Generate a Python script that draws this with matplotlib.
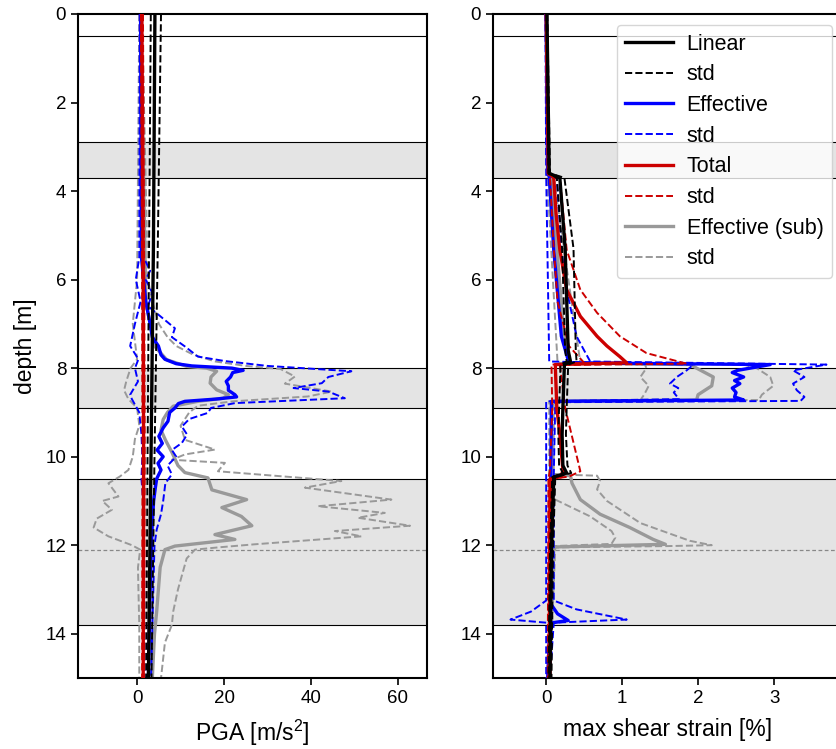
import matplotlib
matplotlib.use("Agg")
import matplotlib.pyplot as plt
from matplotlib.lines import Line2D

plt.rcParams['font.family'] = ['Liberation Sans', 'DejaVu Sans']
plt.rcParams['mathtext.fontset'] = 'custom'
plt.rcParams['mathtext.rm'] = 'Liberation Sans'
plt.rcParams['mathtext.default'] = 'regular'

# ---------------- layer geometry (depth, m) ----------------
layer_lines = [0.5, 2.9, 3.7, 8.0, 8.9, 10.5, 13.8]
bands = [(2.9, 3.7), (8.0, 8.9), (10.5, 13.8)]
water_table = 12.1
yticks = [0, 2, 4, 6, 8, 10, 12, 14]

# ---------------- PGA panel [m/s2] ----------------
pga_lin_d = [0, 5.3, 10, 15]
pga_lin = [4.1, 3.75, 3.2, 2.6]
pga_lin_hi = [5.5, 4.75, 4.0, 3.3]
pga_lin_lo = [3.15, 2.75, 2.4, 2.1]

pga_tot_d = [0, 6, 10, 15]
pga_tot = [1.1, 1.4, 1.5, 1.4]
pga_tot_hi = [1.35, 1.65, 1.75, 1.65]
pga_tot_lo = [0.85, 1.15, 1.25, 1.15]

pga_eff_d = [0, 5.5, 6.5, 7.0, 7.3, 7.5, 7.7, 7.8, 7.9, 7.95, 8.0, 8.05, 8.1, 8.2,
             8.3, 8.4, 8.5, 8.6, 8.65, 8.7, 8.75, 8.8, 8.9, 9.0, 9.2, 9.35, 9.54,
             9.7, 9.85, 10.0, 10.15, 10.3, 10.5, 10.7, 11.0, 11.5, 12.0, 13.0, 14.0, 15.0]
pga_eff = [0.8, 1.0, 2.0, 3.0, 3.5, 4.9, 5.5, 6.4, 9.0, 12.6, 21.8, 24.4, 22.0, 21.5,
           20.5, 21.0, 21.0, 22.5, 22.9, 18.0, 11.0, 9.5, 8.7, 7.5, 7.1, 6.0, 5.0,
           5.8, 4.6, 6.0, 4.8, 5.5, 4.5, 4.2, 3.8, 3.5, 3.3, 3.0, 2.8, 2.6]
pga_eff_hi_d = [0, 5.5, 5.8, 6.0, 6.3, 6.6, 6.76, 7.1, 7.3, 7.51, 7.74, 7.84, 7.95, 8.07,
                8.2, 8.34, 8.45, 8.53, 8.68, 8.79, 8.9, 9.01, 9.15, 9.32, 9.5, 9.69, 9.85,
                10.0, 10.2, 10.4, 10.6, 11.0, 11.3, 11.65, 12.0, 15.0]
pga_eff_hi = [1.1, 1.5, 3.0, 2.0, 3.5, 2.5, 4.5, 8.7, 8.0, 11.0, 14.0, 20.2, 30.0, 49.3,
              44.0, 42.5, 36.0, 44.0, 47.8, 22.5, 17.0, 16.3, 12.0, 10.3, 11.5, 10.3, 8.0,
              9.0, 7.0, 8.0, 6.5, 6.0, 5.5, 4.5, 4.0, 3.2]
pga_eff_lo_d = [0, 5.5, 6.0, 6.5, 7.0, 7.5, 7.8, 8.0, 8.3, 8.6, 8.7, 9.0, 9.5, 10.0,
                10.5, 11.0, 12.0, 15.0]
pga_eff_lo = [0.6, 0.5, -0.3, 0.8, -0.5, -1.6, 0.3, -0.5, 0.2, -1.6, -1.2, 0.5, 1.0, 1.2,
              1.0, 1.4, 1.6, 1.7]

pga_sub_d = [0, 6.5, 7.0, 7.5, 7.81, 7.96, 8.0, 8.07, 8.2, 8.34, 8.49, 8.6, 8.68, 8.75,
             8.86, 9.0, 9.16, 9.4, 9.62, 9.9, 10.2, 10.36, 10.48, 10.75, 10.97, 11.15,
             11.35, 11.56, 11.76, 11.87, 12.02, 12.1, 12.5, 13.5, 14.0, 15.0]
pga_sub = [0.8, 2.0, 3.0, 4.0, 6.8, 11.4, 16.0, 18.3, 17.0, 16.8, 18.3, 21.0, 19.8, 14.0,
           8.3, 7.0, 6.0, 5.5, 6.5, 8.0, 9.4, 11.0, 16.3, 17.2, 25.2, 19.5,
           24.0, 26.4, 17.9, 22.5, 8.7, 6.4, 5.3, 4.5, 4.0, 3.5]
pga_sub_hi_d = [0, 6.0, 6.5, 7.0, 7.3, 7.5, 7.7, 7.85, 7.95, 8.02, 8.19, 8.35, 8.53, 8.64,
                8.75, 8.85, 9.0, 9.3, 9.62, 9.84, 9.95, 10.07, 10.14, 10.33, 10.55, 10.7,
                10.97, 11.12, 11.27, 11.38, 11.56, 11.68, 11.8, 11.98, 12.05, 12.1, 12.3,
                13.0, 13.5, 13.8, 14.2, 15.0]
pga_sub_hi = [1.1, 2.5, 3.5, 5.0, 7.0, 9.0, 13.0, 18.0, 25.0, 33.0, 36.3, 34.0, 44.8, 39.3,
              22.0, 14.0, 12.0, 10.0, 11.0, 17.9, 11.0, 8.0, 20.2, 18.6, 47.0, 38.6,
              58.5, 41.6, 57.0, 50.8, 62.8, 45.5, 51.6, 27.0, 18.6, 13.3, 11.4,
              9.4, 8.3, 8.0, 6.4, 5.5]
pga_sub_lo_d = [0, 6.0, 7.0, 7.8, 8.0, 8.3, 8.5, 8.7, 8.9, 9.3, 9.6, 10.0, 10.3, 10.45,
                10.6, 10.9, 11.0, 11.2, 11.4, 11.6, 11.8, 12.0, 12.1, 12.5, 13.0, 13.8, 15.0]
pga_sub_lo = [0.5, 0.0, -1.0, 0.0, -1.5, -2.5, -3.0, -2.0, 0.0, 0.5, -0.5, -1.0, -2.0, -4.0,
              -6.6, -4.3, -8.0, -5.8, -9.3, -10.0, -6.6, -1.2, 0.7, 0.2, 0.3, 0.5, 0.5]

# ---------------- max shear strain panel [%] ----------------
gam_lin_d = [0, 3.6, 3.7, 5.3, 7.6, 7.85, 7.92, 8.9, 9.5, 10.2, 10.37, 10.46, 12.1, 15]
gam_lin = [0.01, 0.04, 0.18, 0.25, 0.29, 0.32, 0.24, 0.22, 0.21, 0.22, 0.27, 0.1, 0.07, 0.05]
gam_lin_hi = [0.015, 0.05, 0.24, 0.36, 0.39, 0.4, 0.29, 0.27, 0.26, 0.28, 0.33, 0.12, 0.09, 0.07]
gam_lin_lo = [0.005, 0.03, 0.14, 0.21, 0.25, 0.27, 0.19, 0.17, 0.16, 0.17, 0.22, 0.08, 0.05, 0.03]

gam_tot_d = [0, 3.6, 3.7, 4.5, 5.33, 6.23, 6.83, 7.28, 7.5, 7.74, 7.88, 7.92, 8.9, 9.5,
             10.3, 10.45, 10.5, 15]
gam_tot = [0.0, 0.03, 0.1, 0.13, 0.18, 0.27, 0.45, 0.67, 0.8, 0.97, 1.06, 0.12, 0.14, 0.18,
           0.22, 0.2, 0.05, 0.04]
gam_tot_hi_d = [0, 3.6, 3.7, 5.33, 6.23, 6.75, 7.28, 7.66, 7.9, 7.93, 8.9, 10.33, 10.45, 10.5, 15]
gam_tot_hi = [0.01, 0.04, 0.18, 0.27, 0.45, 0.67, 0.97, 1.32, 1.85, 0.18, 0.25, 0.45, 0.3, 0.07, 0.06]
gam_tot_lo_d = [0, 3.6, 3.7, 5.3, 6.5, 7.5, 7.88, 7.92, 8.9, 10.3, 10.5, 15]
gam_tot_lo = [0.0, 0.02, 0.05, 0.1, 0.15, 0.3, 0.5, 0.07, 0.08, 0.05, 0.03, 0.02]

gam_eff_d = [0, 3.6, 3.67, 5.33, 7.28, 7.88, 7.92, 8.05, 8.1, 8.2, 8.28, 8.35, 8.45, 8.55,
             8.65, 8.72, 8.75, 10.4, 13.3, 13.55, 13.7, 13.76, 15]
gam_eff = [0.0, 0.02, 0.04, 0.1, 0.2, 0.3, 2.95, 2.52, 2.45, 2.6, 2.48, 2.55, 2.45, 2.5,
           2.48, 2.6, 0.07, 0.06, 0.05, 0.15, 0.29, 0.05, 0.02]
gam_eff_hi_d = [0, 3.6, 3.7, 5.3, 6.23, 7.28, 7.6, 7.85, 7.92, 8.05, 8.2, 8.35, 8.5, 8.65,
                8.74, 8.77, 10.4, 13.25, 13.45, 13.68, 13.75, 15]
gam_eff_hi = [0.01, 0.03, 0.14, 0.2, 0.27, 0.4, 0.5, 0.58, 3.69, 3.25, 3.4, 3.25, 3.3, 3.4,
              3.35, 0.12, 0.1, 0.1, 0.4, 1.06, 0.1, 0.05]
gam_eff_lo_d = [0, 3.6, 7.85, 7.92, 8.05, 8.2, 8.35, 8.45, 8.55, 8.7, 8.75, 10.4, 13.25,
                13.5, 13.68, 13.75, 15]
gam_eff_lo = [-0.01, 0.0, 0.04, 1.94, 1.85, 1.72, 1.63, 1.74, 1.68, 1.75, 0.0, 0.0, 0.0,
              -0.2, -0.47, 0.0, 0.0]

gam_sub_d = [0, 3.6, 3.7, 7.0, 7.88, 7.92, 8.0, 8.2, 8.4, 8.6, 8.72, 8.75, 10.4, 10.43,
             10.6, 10.97, 11.3, 11.6, 11.87, 11.98, 12.04, 15]
gam_sub = [0.0, 0.02, 0.07, 0.22, 0.3, 1.9, 1.98, 2.2, 2.18, 2.0, 1.98, 0.07, 0.07, 0.32,
           0.34, 0.45, 0.71, 1.1, 1.41, 1.57, 0.1, 0.04]
gam_sub_hi_d = [0, 3.6, 3.7, 7.88, 7.92, 8.0, 8.2, 8.4, 8.6, 8.72, 8.75, 10.4, 10.43, 10.55,
                10.74, 11.0, 11.5, 11.9, 12.0, 12.02, 12.05, 15]
gam_sub_hi = [0.01, 0.03, 0.1, 0.45, 2.6, 2.77, 2.95, 2.99, 2.84, 2.8, 0.1, 0.1, 0.67, 0.71,
              0.67, 0.8, 1.24, 1.89, 2.18, 1.6, 0.12, 0.05]
gam_sub_lo_d = [0, 3.6, 7.88, 7.92, 8.0, 8.2, 8.4, 8.6, 8.72, 8.75, 10.4, 10.97, 11.35,
                11.68, 11.83, 11.97, 12.02, 15]
gam_sub_lo = [0.0, 0.01, 0.15, 1.3, 1.32, 1.24, 1.35, 1.29, 1.24, 0.04, 0.04, 0.12, 0.58,
              0.86, 0.91, 0.86, 0.1, 0.03]

legend_names = ['Linear', 'std', 'Effective', 'std', 'Total', 'std', 'Effective (sub)', 'std']

# ---------------- styles ----------------
C_LIN, C_EFF, C_TOT, C_SUB = 'black', '#0000ff', '#cc0000', '#999999'
LW_S, LW_D = 2.4, 1.4

fig = plt.figure(figsize=(8.37, 7.49), dpi=100)
ax1 = fig.add_axes([78 / 837, 1 - 678 / 749, (427 - 78) / 837, (678 - 14) / 749])
ax2 = fig.add_axes([493 / 837, 1 - 678 / 749, (842 - 493) / 837, (678 - 14) / 749])


def decorate(ax):
    for a, b in bands:
        ax.axhspan(a, b, color='#e4e4e4', lw=0, zorder=0)
    for d in layer_lines:
        ax.axhline(d, color='black', lw=0.8, zorder=1)
    ax.axhline(water_table, color='#888888', lw=0.9, ls=(0, (3, 2)), zorder=1)
    ax.set_ylim(15, 0)
    ax.set_yticks(yticks)
    for s in ax.spines.values():
        s.set_linewidth(1.5)
    ax.tick_params(direction='out', length=5, width=1.2, labelsize=13.5)


def plot_set(ax, d, m, c, z, ls='-'):
    ax.plot(m, d, color=c, lw=LW_S if ls == '-' else LW_D, ls=ls, zorder=z)


decorate(ax1)
decorate(ax2)

# left panel
plot_set(ax1, pga_sub_d, pga_sub, C_SUB, 2)
plot_set(ax1, pga_sub_hi_d, pga_sub_hi, C_SUB, 2, '--')
plot_set(ax1, pga_sub_lo_d, pga_sub_lo, C_SUB, 2, '--')
plot_set(ax1, pga_eff_d, pga_eff, C_EFF, 3)
plot_set(ax1, pga_eff_hi_d, pga_eff_hi, C_EFF, 3, '--')
plot_set(ax1, pga_eff_lo_d, pga_eff_lo, C_EFF, 3, '--')
plot_set(ax1, pga_tot_d, pga_tot, C_TOT, 4)
plot_set(ax1, pga_tot_d, pga_tot_hi, C_TOT, 4, '--')
plot_set(ax1, pga_tot_d, pga_tot_lo, C_TOT, 4, '--')
plot_set(ax1, pga_lin_d, pga_lin, C_LIN, 5)
plot_set(ax1, pga_lin_d, pga_lin_hi, C_LIN, 5, '--')
plot_set(ax1, pga_lin_d, pga_lin_lo, C_LIN, 5, '--')

# right panel
plot_set(ax2, gam_sub_d, gam_sub, C_SUB, 2)
plot_set(ax2, gam_sub_hi_d, gam_sub_hi, C_SUB, 2, '--')
plot_set(ax2, gam_sub_lo_d, gam_sub_lo, C_SUB, 2, '--')
plot_set(ax2, gam_eff_d, gam_eff, C_EFF, 3)
plot_set(ax2, gam_eff_hi_d, gam_eff_hi, C_EFF, 3, '--')
plot_set(ax2, gam_eff_lo_d, gam_eff_lo, C_EFF, 3, '--')
plot_set(ax2, gam_tot_d, gam_tot, C_TOT, 4)
plot_set(ax2, gam_tot_hi_d, gam_tot_hi, C_TOT, 4, '--')
plot_set(ax2, gam_tot_lo_d, gam_tot_lo, C_TOT, 4, '--')
plot_set(ax2, gam_lin_d, gam_lin, C_LIN, 5)
plot_set(ax2, gam_lin_d, gam_lin_hi, C_LIN, 5, '--')
plot_set(ax2, gam_lin_d, gam_lin_lo, C_LIN, 5, '--')

ax1.set_xlim(-13.6, 66.7)
ax1.set_xticks([0, 20, 40, 60])
ax2.set_xlim(-0.7, (842 - 546) / 76)
ax2.set_xticks([0, 1, 2, 3])

ax1.set_xlabel('PGA [m/s$^2$]', fontsize=16.5, labelpad=8)
ax2.set_xlabel('max shear strain [%]', fontsize=16.5, labelpad=8)
ax1.set_ylabel('depth [m]', fontsize=16.5, labelpad=6)

handles = []
for c in [C_LIN, C_EFF, C_TOT, C_SUB]:
    handles.append(Line2D([], [], color=c, lw=LW_S))
    handles.append(Line2D([], [], color=c, lw=LW_D, ls='--'))
ax2.legend(handles, legend_names, loc='upper right', bbox_to_anchor=(832 / 837, 1 - 25 / 749),
           bbox_transform=fig.transFigure, borderaxespad=0, fontsize=15.5,
           handlelength=2.2, handletextpad=0.65, labelspacing=0.45, framealpha=0.8)

fig.savefig('out.png', dpi=100)
